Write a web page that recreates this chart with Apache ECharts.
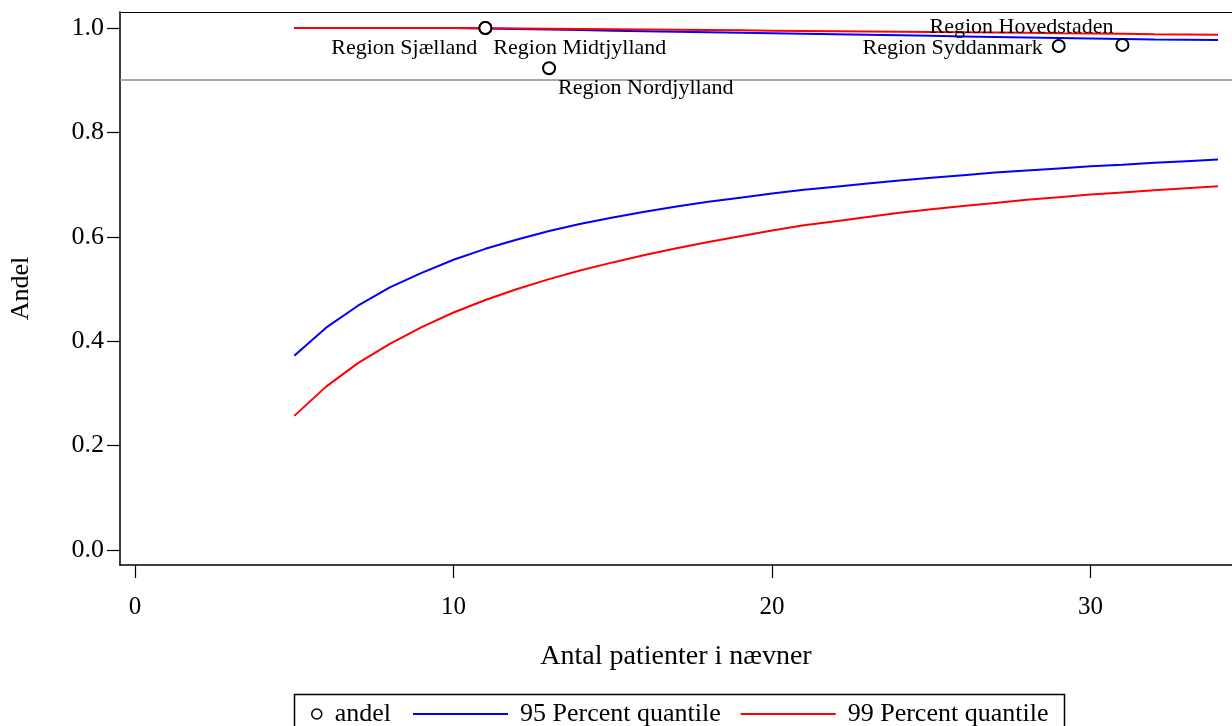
<!DOCTYPE html>
<html><head><meta charset="utf-8">
<script src="https://cdn.jsdelivr.net/npm/echarts@6/dist/echarts.min.js"></script>
<style>html,body{margin:0;padding:0;background:#fff}#c{width:1232px;height:726px}</style>
</head><body><div id="c"></div>
<script>
// ---- data ----
const nValues = [5,6,7,8,9,10,11,12,13,14,15,16,17,18,19,20,21,22,23,24,25,26,27,28,29,30,31,32,33,34];
const q95Lower = [0.372,0.426,0.468,0.503,0.531,0.556,0.577,0.595,0.611,0.625,0.637,0.648,0.658,0.667,0.675,0.683,0.690,0.696,0.702,0.708,0.713,0.718,0.723,0.727,0.731,0.735,0.738,0.742,0.745,0.748];
const q99Lower = [0.257,0.313,0.358,0.395,0.427,0.455,0.479,0.500,0.519,0.536,0.551,0.565,0.578,0.590,0.601,0.612,0.622,0.630,0.638,0.646,0.653,0.659,0.665,0.671,0.676,0.681,0.685,0.689,0.693,0.697];
const q95Upper = [1.000,1.000,1.000,1.000,1.000,1.000,0.999,0.998,0.997,0.996,0.995,0.994,0.993,0.992,0.991,0.990,0.989,0.988,0.987,0.986,0.985,0.984,0.983,0.982,0.981,0.980,0.979,0.978,0.9775,0.977];
const q99Upper = [1.000,1.000,1.000,1.000,1.000,1.000,0.9995,0.999,0.9985,0.998,0.9975,0.997,0.9965,0.996,0.9955,0.995,0.9945,0.994,0.9935,0.993,0.9925,0.992,0.9915,0.991,0.990,0.9895,0.989,0.988,0.9875,0.987];
const regionNames = ['Region Sjælland','Region Midtjylland','Region Nordjylland','Region Syddanmark','Region Hovedstaden'];
const regionN = [11,11,13,29,31];
const regionAndel = [1.0,1.0,0.923,0.9655,0.9677];
const targetLevel = 0.9;
const xTicks = [0,10,20,30];
const yTicks = [0,0.2,0.4,0.6,0.8,1.0];
const seriesNames = ['andel','95 Percent quantile','99 Percent quantile'];

// ---- styling ----
const FONT = 'Liberation Serif';
const labelLayout = {
  'Region Sjælland':   {align:'right', offset:[-8,20]},
  'Region Midtjylland':{align:'left',  offset:[8,20]},
  'Region Nordjylland':{align:'left',  offset:[9,20]},
  'Region Syddanmark': {align:'right', offset:[-16,2]},
  'Region Hovedstaden':{align:'right', offset:[-9,-18]}
};
const zip = (xs, ys) => xs.map((x,i)=>[x, ys[i]]);

const chart = echarts.init(document.getElementById('c'), null, {renderer:'canvas'});
const lineStyleBlue = {color:'#0000ff', width:2};
const lineStyleRed = {color:'#ff0000', width:2};
const X_MIN = -0.47, X_MAX = 34.44;
chart.setOption({
  animation:false,
  backgroundColor:'#fff',
  grid:{left:119.5, top:12, right:0, bottom:161, show:false},
  xAxis:[{
    type:'value', min:X_MIN, max:X_MAX,
    name:'Antal patienter i nævner', nameLocation:'middle', nameGap:78,
    nameTextStyle:{fontFamily:FONT, fontSize:28, color:'#000'},
    axisLine:{onZero:false, lineStyle:{color:'#000', width:1.5}},
    axisTick:{show:true, length:13, lineStyle:{color:'#000', width:1.2}, customValues:xTicks},
    axisLabel:{fontFamily:FONT, fontSize:25, color:'#000', margin:30, customValues:xTicks, formatter:v=>String(v)},
    splitLine:{show:false}
  },{
    type:'value', position:'top', min:X_MIN, max:X_MAX,
    axisLine:{show:true, onZero:false, lineStyle:{color:'#000', width:1}},
    axisTick:{show:false}, axisLabel:{show:false}, splitLine:{show:false}
  }],
  yAxis:{
    type:'value', min:-0.0287, max:1.0307,
    name:'Andel', nameLocation:'middle', nameGap:86,
    nameTextStyle:{fontFamily:FONT, fontSize:26, color:'#000'},
    axisLine:{onZero:false, lineStyle:{color:'#000', width:1.5}},
    axisTick:{show:true, length:13, lineStyle:{color:'#000', width:1.2}, customValues:yTicks},
    axisLabel:{fontFamily:FONT, fontSize:26, color:'#000', margin:16, customValues:yTicks, formatter:v=>v.toFixed(1)},
    splitLine:{show:false}
  },
  legend:[
    {data:[seriesNames[0]], left:306, top:696, itemWidth:10, itemHeight:10, icon:'circle',
     itemStyle:{color:'#fff', borderColor:'#000', borderWidth:1.5},
     textStyle:{fontFamily:FONT, fontSize:26, color:'#000', padding:[0,0,0,8]}},
    {data:[seriesNames[1], seriesNames[2]], left:408, top:696, itemWidth:95, itemHeight:2, itemGap:20, icon:'rect',
     textStyle:{fontFamily:FONT, fontSize:26, color:'#000', padding:[0,0,0,7]}}
  ],
  graphic:[{type:'rect', left:292, top:692, shape:{width:770, height:40}, style:{fill:'none', stroke:'#000', lineWidth:1.5}, silent:true}],
  series:[
    {name:seriesNames[1], type:'line', data:zip(nValues,q95Lower), symbol:'none', lineStyle:lineStyleBlue, itemStyle:{color:'#0000ff'}, z:2},
    {name:seriesNames[1], type:'line', data:zip(nValues,q95Upper), symbol:'none', lineStyle:lineStyleBlue, itemStyle:{color:'#0000ff'}, z:2},
    {name:seriesNames[2], type:'line', data:zip(nValues,q99Lower), symbol:'none', lineStyle:lineStyleRed, itemStyle:{color:'#ff0000'}, z:3},
    {name:seriesNames[2], type:'line', data:zip(nValues,q99Upper), symbol:'none', lineStyle:lineStyleRed, itemStyle:{color:'#ff0000'}, z:3,
     markLine:{silent:true, symbol:'none', label:{show:false}, lineStyle:{color:'#8c8c8c', width:1.5, type:'solid'}, data:[{yAxis:targetLevel}]}},
    {name:seriesNames[0], type:'scatter', symbol:'circle', symbolSize:12, z:5,
     itemStyle:{color:'#fff', borderColor:'#000', borderWidth:2, opacity:1},
     data: regionNames.map((nm,i)=>({name:nm, value:[regionN[i], regionAndel[i]],
       label:{show:true, position:'inside', verticalAlign:'middle', formatter:'{b}',
              fontFamily:FONT, fontSize:22, color:'#000', align:labelLayout[nm].align, offset:labelLayout[nm].offset}}))
    }
  ]
});
</script></body></html>
